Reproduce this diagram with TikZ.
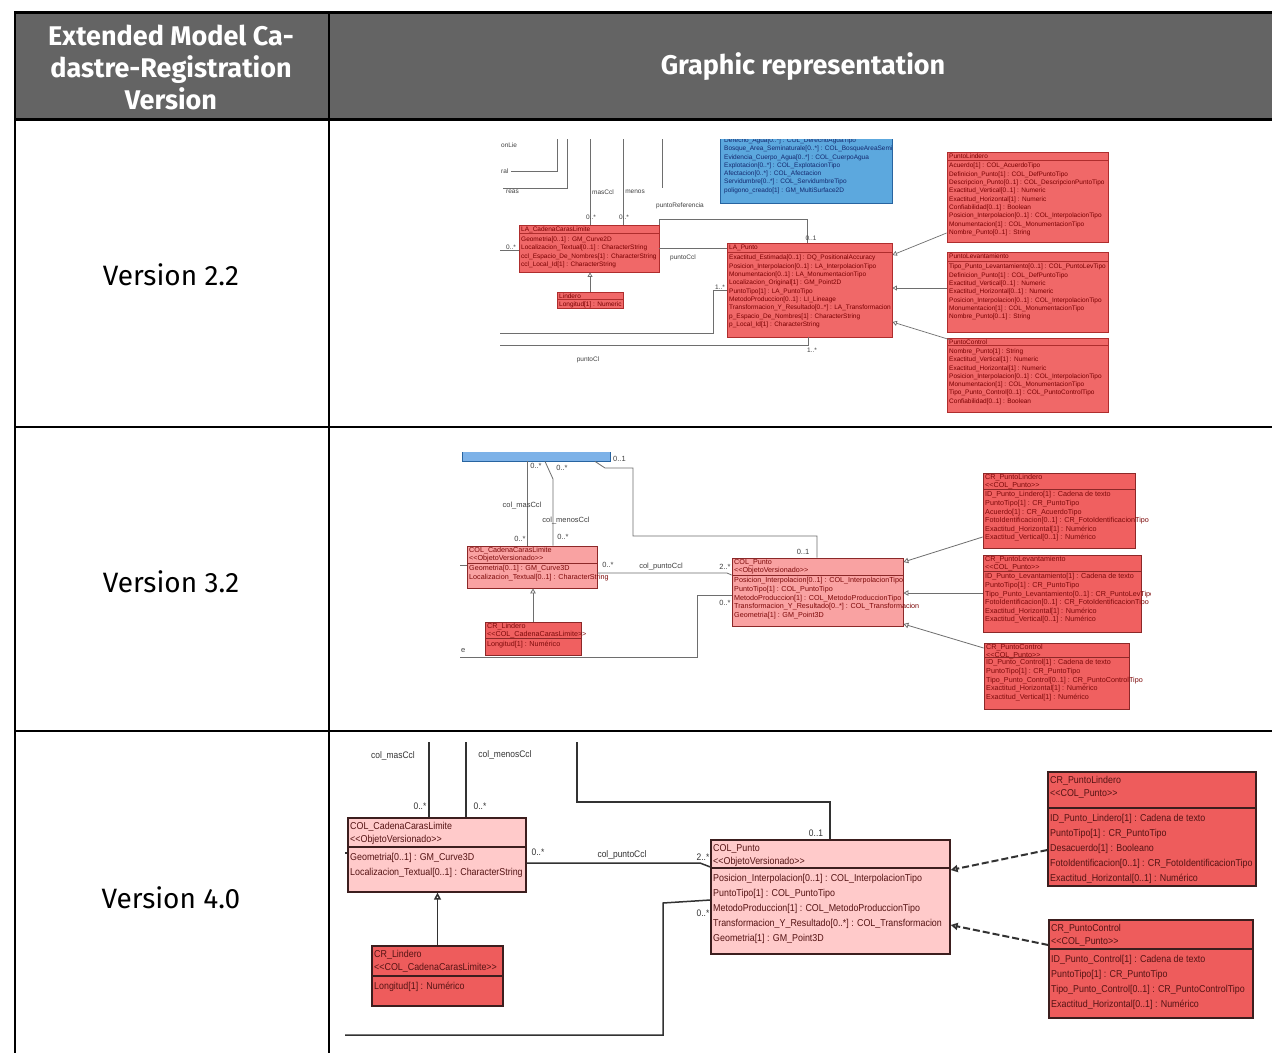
\documentclass[tikz,border=0pt]{standalone}
\usepackage{fontspec}
\setmainfont{Fira Sans}
\newfontfamily\umlf{Liberation Sans}
\newfontfamily\umlfn[FakeStretch=0.89]{Liberation Sans}
\usetikzlibrary{arrows.meta,fit,calc}
\definecolor{hdrgray}{RGB}{100,100,100}
\definecolor{rfill1}{RGB}{240,104,104}
\definecolor{rdraw1}{RGB}{175,45,45}
\definecolor{rtxt1}{RGB}{120,0,0}
\definecolor{bfill}{RGB}{92,168,222}
\definecolor{bdraw}{RGB}{40,100,160}
\definecolor{btxt}{RGB}{20,40,110}
\definecolor{lfill2}{RGB}{249,162,162}
\definecolor{rfill2}{RGB}{240,96,96}
\definecolor{rdraw2}{RGB}{140,40,40}
\definecolor{rtxt2}{RGB}{125,10,10}
\definecolor{bfill2}{RGB}{125,178,232}
\definecolor{lfill3}{RGB}{255,202,202}
\definecolor{rfill3}{RGB}{238,92,92}
\definecolor{rdraw3}{RGB}{60,30,30}
\definecolor{rtxt3}{RGB}{85,20,20}
\definecolor{conn1}{RGB}{110,110,110}
\definecolor{conn3}{RGB}{50,50,50}
\newcommand{\stq}[1]{<\kern0pt<#1>\kern0pt>}
\newcommand{\umlcls}[9]{%
  \node[#6, fit={(#2,#3) (#4,#5)}, inner sep=0pt] (#1) {};
  \draw[umlsep] (#2,#7) -- (#4,#7);
  \node[umlhdr, anchor=north west] (#1-h) at (#2+2,#3+\umlhp) {#8};
  \node[umlattr, anchor=north west] (#1-a) at (#2+2,#7+\umlap) {#9};
}
\begin{document}
\catcode`\_=12
\begin{tikzpicture}[x=1pt,y=-1pt,
  hdrtxt/.style={font=\bfseries\fontsize{27}{32}\selectfont, text=white, align=center, inner sep=0pt},
  rowtxt/.style={font=\fontsize{28}{30}\selectfont, text=black, inner sep=0pt},
  tline/.style={draw=black, line width=2.4pt}]
\useasboundingbox (0,0) rectangle (1272,1053);
\fill[white] (0,0) rectangle (1272,1053);
% ---------------- table ----------------
\fill[hdrgray] (14,12) rectangle (1272,119);
\draw[tline, line width=3pt] (14,12.5) -- (1272,12.5);
\draw[tline, line width=3pt] (14,119) -- (1272,119);
\draw[tline] (14,427) -- (1272,427);
\draw[tline] (14,731) -- (1272,731);
\draw[tline] (15,11) -- (15,1053);
\draw[tline] (329,11) -- (329,1053);
\node[hdrtxt] (h1) at (171,67) {Extended Model Ca-\\dastre-Registration\\Version};
\node[hdrtxt] (h2) at (803,67) {Graphic representation};
\node[rowtxt] (v22) at (171,275) {Version 2.2};
\node[rowtxt] (v32) at (171,582) {Version 3.2};
\node[rowtxt] (v40) at (171,898) {Version 4.0};
% ---------------- row 1 ----------------
\begin{scope}[
  umlhdr/.style={font=\umlf\fontsize{6.5}{8.3}\selectfont, text=rtxt1, align=left, inner sep=0pt},
  umlattr/.style={font=\umlf\fontsize{6.5}{8.3}\selectfont, text=rtxt1, align=left, inner sep=0pt},
  umlsep/.style={draw=rdraw1, line width=0.9pt},
  rbox/.style={draw=rdraw1, fill=rfill1, line width=0.8pt},
  bbox/.style={draw=bdraw, fill=bfill, line width=0.8pt},
  lbl/.style={font=\umlf\fontsize{6.5}{6.5}\selectfont, text=black!75, inner sep=0pt},
  cn/.style={draw=conn1, line width=0.7pt},
  gen/.style={cn, -{Triangle[open,length=4.5pt,width=5pt]}}]
\def\umlhp{2}\def\umlap{3}
\clip (500,139) rectangle (1112,414);
\node[bbox, fit={(720,120) (892,203)}, inner sep=0pt] (agua1) {};
\node[umlattr, text=btxt, anchor=north west] (agua1-a) at (724,137.5) {Derecho_Agua[0..*] : COL_DerechoAguaTipo\\Bosque_Area_Seminaturale[0..*] : COL_BosqueAreaSemi\\Evidencia_Cuerpo_Agua[0..*] : COL_CuerpoAgua\\Explotacion[0..*] : COL_ExplotacionTipo\\Afectacion[0..*] : COL_Afectacion\\Servidumbre[0..*] : COL_ServidumbreTipo\\poligono_creado[1] : GM_MultiSurface2D};
\umlcls{lacad}{519}{225}{659}{272}{rbox}{233.5}{LA_CadenaCarasLimite}{Geometria[0..1] : GM_Curve2D\\Localizacion_Textual[0..1] : CharacterString\\ccl_Espacio_De_Nombres[1] : CharacterString\\ccl_Local_Id[1] : CharacterString}
\umlcls{lapunto}{727}{243}{892}{337}{rbox}{252}{LA_Punto}{Exactitud_Estimada[0..1] : DQ_PositionalAccuracy\\Posicion_Interpolacion[0..1] : LA_InterpolacionTipo\\Monumentacion[0..1] : LA_MonumentacionTipo\\Localizacion_Original[1] : GM_Point2D\\PuntoTipo[1] : LA_PuntoTipo\\MetodoProduccion[0..1] : LI_Lineage\\Transformacion_Y_Resultado[0..*] : LA_Transformacion\\p_Espacio_De_Nombres[1] : CharacterString\\p_Local_Id[1] : CharacterString}
\umlcls{lindero}{557}{292}{623}{308}{rbox}{299}{Lindero}{Longitud[1] : Numeric}
\umlcls{plind}{947}{152}{1108}{242}{rbox}{160}{PuntoLindero}{Acuerdo[1] : COL_AcuerdoTipo\\Definicion_Punto[1] : COL_DefPuntoTipo\\Descripcion_Punto[0..1] : COL_DescripcionPuntoTipo\\Exactitud_Vertical[0..1] : Numeric\\Exactitud_Horizontal[1] : Numeric\\Confiabilidad[0..1] : Boolean\\Posicion_Interpolacion[0..1] : COL_InterpolacionTipo\\Monumentacion[1] : COL_MonumentacionTipo\\Nombre_Punto[0..1] : String}
\umlcls{plev}{947}{252}{1108}{332}{rbox}{261}{PuntoLevantamiento}{Tipo_Punto_Levantamiento[0..1] : COL_PuntoLevTipo\\Definicion_Punto[1] : COL_DefPuntoTipo\\Exactitud_Vertical[0..1] : Numeric\\Exactitud_Horizontal[0..1] : Numeric\\Posicion_Interpolacion[0..1] : COL_InterpolacionTipo\\Monumentacion[1] : COL_MonumentacionTipo\\Nombre_Punto[0..1] : String}
\umlcls{pctrl}{947}{338}{1108}{412}{rbox}{345.5}{PuntoControl}{Nombre_Punto[1] : String\\Exactitud_Vertical[1] : Numeric\\Exactitud_Horizontal[1] : Numeric\\Posicion_Interpolacion[0..1] : COL_InterpolacionTipo\\Monumentacion[1] : COL_MonumentacionTipo\\Tipo_Punto_Control[0..1] : COL_PuntoControlTipo\\Confiabilidad[0..1] : Boolean}
% connectors row 1
\coordinate (r1a) at (557,130);
\coordinate (r1b) at (567,130);
\coordinate (r1c) at (590,130);
\coordinate (r1d) at (623,130);
\coordinate (r1e) at (662,130);
\coordinate (r1f) at (500,250);
\coordinate (r1g) at (500,333);
\coordinate (r1h) at (500,345);
\draw[cn] (r1a) -- (557,171) -- (511,171);
\draw[cn] (r1b) -- (567,188) -- (503,188);
\draw[cn] (r1c) -- (r1c |- lacad.north);
\draw[cn] (r1d) -- (r1d |- lacad.north);
\draw[cn] (r1e) -- (662,188);
\draw[cn] (lacad.north east) -- ++(0,-5) -| ($(lapunto.north west)+(81,0)$);
\draw[cn] (lacad.east) -- (lacad.east -| lapunto.west);
\draw[cn] (r1f) -- (r1f -| lacad.west);
\draw[cn] (r1g) -- (713,333) -- (713,290) -- (lapunto.west |- 0,290);
\draw[cn] (r1h) -- (808,345) -- (808,0 |- lapunto.south);
\draw[gen] (lindero.north) -- (lindero.north |- lacad.south);
\draw[gen] (plind.west |- 0,233) -- (lapunto.east |- 0,255);
\draw[gen] (plev.west |- 0,288) -- (lapunto.east |- 0,288);
\draw[gen] ($(pctrl.north west)+(3,2)$) -- (lapunto.east |- 0,322);
\node[lbl, anchor=west] (l1a) at (501,145) {onLie};
\node[lbl, anchor=west] (l1b) at (501,171) {ral};
\node[lbl, anchor=west] (l1c) at (506,192) {reas};
\node[lbl] (l1d) at (603,192) {masCcl};
\node[lbl] (l1e) at (635,192) {menos};
\node[lbl] (l1f) at (591,217) {0..*};
\node[lbl] (l1g) at (624,217) {0..*};
\node[lbl] (l1h) at (680,206) {puntoReferencia};
\node[lbl] (l1i) at (811,238) {0..1};
\node[lbl] (l1j) at (511,247) {0..*};
\node[lbl] (l1k) at (683,258) {puntoCcl};
\node[lbl] (l1l) at (720,287) {1..*};
\node[lbl] (l1m) at (812,350) {1..*};
\node[lbl] (l1n) at (588,360) {puntoCl};
\end{scope}
% ---------------- row 2 ----------------
\begin{scope}[
  umlhdr/.style={font=\umlf\fontsize{7.2}{7.6}\selectfont, text=rtxt2, align=left, inner sep=0pt},
  umlattr/.style={font=\umlf\fontsize{7.2}{8.6}\selectfont, text=rtxt2, align=left, inner sep=0pt},
  umlsep/.style={draw=rdraw2, line width=0.9pt},
  lbox/.style={draw=rdraw2, fill=lfill2, line width=0.8pt},
  rbox/.style={draw=rdraw2, fill=rfill2, line width=0.8pt},
  lbl/.style={font=\umlf\fontsize{7.5}{7.5}\selectfont, text=black!75, inner sep=0pt},
  cn/.style={draw=conn1, line width=0.8pt},
  gen/.style={cn, -{Triangle[open,length=5pt,width=5.5pt]}}]
\def\umlhp{1.5}\def\umlap{2.5}
\clip (460,452) rectangle (1150,712);
\node[draw=bdraw, fill=bfill2, line width=0.8pt, fit={(462,440) (610,461)}, inner sep=0pt] (agua2) {};
\umlcls{cad2}{467}{546}{597}{588}{lbox}{563}{COL_CadenaCarasLimite\\\stq{ObjetoVersionado}}{Geometria[0..1] : GM_Curve3D\\Localizacion_Textual[0..1] : CharacterString}
\umlcls{lind2}{485}{622}{581}{655}{rbox}{638}{CR_Lindero\\\stq{COL_CadenaCarasLimite}}{Longitud[1] : Numérico}
\umlcls{pt2}{732}{558}{903}{626}{lbox}{575}{COL_Punto\\\stq{ObjetoVersionado}}{Posicion_Interpolacion[0..1] : COL_InterpolacionTipo\\PuntoTipo[1] : COL_PuntoTipo\\MetodoProduccion[1] : COL_MetodoProduccionTipo\\Transformacion_Y_Resultado[0..*] : COL_Transformacion\\Geometria[1] : GM_Point3D}
\umlcls{plind2}{983}{473}{1135}{548}{rbox}{489}{CR_PuntoLindero\\\stq{COL_Punto}}{ID_Punto_Lindero[1] : Cadena de texto\\PuntoTipo[1] : CR_PuntoTipo\\Acuerdo[1] : CR_AcuerdoTipo\\FotoIdentificacion[0..1] : CR_FotoIdentificacionTipo\\Exactitud_Horizontal[1] : Numérico\\Exactitud_Vertical[0..1] : Numérico}
\umlcls{plev2}{983}{555}{1141}{632}{rbox}{571}{CR_PuntoLevantamiento\\\stq{COL_Punto}}{ID_Punto_Levantamiento[1] : Cadena de texto\\PuntoTipo[1] : CR_PuntoTipo\\Tipo_Punto_Levantamiento[0..1] : CR_PuntoLevTipo\\FotoIdentificacion[0..1] : CR_FotoIdentificacionTipo\\Exactitud_Horizontal[1] : Numérico\\Exactitud_Vertical[0..1] : Numérico}
\umlcls{pctrl2}{984}{643}{1129}{709}{rbox}{657}{CR_PuntoControl\\\stq{COL_Punto}}{ID_Punto_Control[1] : Cadena de texto\\PuntoTipo[1] : CR_PuntoTipo\\Tipo_Punto_Control[0..1] : CR_PuntoControlTipo\\Exactitud_Horizontal[1] : Numérico\\Exactitud_Vertical[1] : Numérico}
% connectors row 2
\coordinate (r2b) at (460,657);
\coordinate (r2c) at (460,565);
\draw[cn] (agua2.south -| 527,0) -- (527,0 |- cad2.north);
\draw[cn] (agua2.south -| 545,0) -- (553,479) -- (553,0 |- cad2.north);
\draw[cn] (agua2.south -| 595,0) -- (605,468) -- (633,468) -- (633,536) -- (817,536) -- (817,0 |- pt2.north);
\draw[cn] (cad2.east |- 0,573) -- (727,573) -- (pt2.west |- 0,575);
\draw[cn] (r2b) -- (697,657) -- (697,595) -- (pt2.west |- 0,595);
\draw[cn] (r2c) -- (r2c -| cad2.west);
\draw[gen] (lind2.north) -- (lind2.north |- cad2.south);
\draw[gen] (plind2.west |- 0,537) -- (pt2.east |- 0,562);
\draw[gen] (plev2.west |- 0,593) -- (pt2.east |- 0,593);
\draw[gen] (pctrl2.west |- 0,648) -- (pt2.east |- 0,624);
\node[lbl, anchor=west] (l2a) at (613,459) {0..1};
\node[lbl] (l2b) at (536,466) {0..*};
\node[lbl] (l2c) at (562,468) {0..*};
\node[lbl] (l2d) at (522,506) {col_masCcl};
\node[lbl] (l2e) at (566,521) {col_menosCcl};
\node[lbl] (l2f) at (520,539) {0..*};
\node[lbl] (l2g) at (563,537) {0..*};
\node[lbl] (l2h) at (803,552) {0..1};
\node[lbl] (l2i) at (608,565) {0..*};
\node[lbl] (l2j) at (661,567) {col_puntoCcl};
\node[lbl] (l2k) at (725,567) {2..*};
\node[lbl] (l2l) at (725,603) {0..*};
\node[lbl, anchor=west] (l2m) at (461,651) {e};
\end{scope}
% ---------------- row 3 ----------------
\begin{scope}[
  umlhdr/.style={font=\umlfn\fontsize{10}{12.5}\selectfont, text=rtxt3, align=left, inner sep=0pt},
  umlattr/.style={font=\umlfn\fontsize{10}{15}\selectfont, text=rtxt3, align=left, inner sep=0pt},
  umlsep/.style={draw=rdraw3, line width=1.4pt},
  lbox/.style={draw=rdraw3, fill=lfill3, line width=1.3pt},
  rbox/.style={draw=rdraw3, fill=rfill3, line width=1.3pt},
  lbl/.style={font=\umlfn\fontsize{9.5}{9.5}\selectfont, text=black!80, inner sep=0pt},
  cn/.style={draw=conn3, line width=1.5pt},
  gen/.style={cn, -{Triangle[open,length=7pt,width=7pt]}}]
\def\umlhp{4.5}\def\umlap{6}
\clip (345,742) rectangle (1262,1053);
\umlcls{cad3}{348}{818}{526}{892}{lbox}{847}{COL_CadenaCarasLimite\\\stq{ObjetoVersionado}}{Geometria[0..1] : GM_Curve3D\\Localizacion_Textual[0..1] : CharacterString}
\umlcls{lind3}{372}{946}{503}{1006}{rbox}{976}{CR_Lindero\\\stq{COL_CadenaCarasLimite}}{Longitud[1] : Numérico}
\umlcls{pt3}{711}{840}{950}{954}{lbox}{868}{COL_Punto\\\stq{ObjetoVersionado}}{Posicion_Interpolacion[0..1] : COL_InterpolacionTipo\\PuntoTipo[1] : COL_PuntoTipo\\MetodoProduccion[1] : COL_MetodoProduccionTipo\\Transformacion_Y_Resultado[0..*] : COL_Transformacion\\Geometria[1] : GM_Point3D}
\umlcls{plind3}{1048}{772}{1256}{886}{rbox}{808}{CR_PuntoLindero\\\stq{COL_Punto}}{ID_Punto_Lindero[1] : Cadena de texto\\PuntoTipo[1] : CR_PuntoTipo\\Desacuerdo[1] : Booleano\\FotoIdentificacion[0..1] : CR_FotoIdentificacionTipo\\Exactitud_Horizontal[0..1] : Numérico}
\umlcls{pctrl3}{1049}{920}{1253}{1018}{rbox}{949}{CR_PuntoControl\\\stq{COL_Punto}}{ID_Punto_Control[1] : Cadena de texto\\PuntoTipo[1] : CR_PuntoTipo\\Tipo_Punto_Control[0..1] : CR_PuntoControlTipo\\Exactitud_Horizontal[0..1] : Numérico}
% connectors row 3
\coordinate (r3a) at (429,742);
\coordinate (r3b) at (466,742);
\coordinate (r3c) at (577,742);
\coordinate (r3d) at (345,1035);
\coordinate (r3e) at (345,853);
\draw[cn] (r3a) -- (r3a |- cad3.north);
\draw[cn] (r3b) -- (r3b |- cad3.north);
\draw[cn] (r3c) -- (577,802) -- (830,802) -- (830,0 |- pt3.north);
\draw[cn] (cad3.east |- 0,863) -- (700,863) -- (pt3.west |- 0,867);
\draw[cn] (r3d) -- (663,1035) -- (663,903) -- (pt3.west |- 0,900);
\draw[cn] (r3e) -- (r3e -| cad3.west);
\draw[gen] (lind3.north) -- (lind3.north |- cad3.south);
\draw[gen, dash pattern=on 7pt off 3pt, line width=2pt] (plind3.west |- 0,850) -- (pt3.east |- 0,870);
\draw[gen, dash pattern=on 7pt off 3pt, line width=2pt] (pctrl3.west |- 0,945) -- (pt3.east |- 0,925);
\node[lbl] (l3a) at (393,756) {col_masCcl};
\node[lbl] (l3b) at (505,755) {col_menosCcl};
\node[lbl] (l3c) at (420,806) {0..*};
\node[lbl] (l3d) at (480,806) {0..*};
\node[lbl] (l3e) at (816,833) {0..1};
\node[lbl] (l3f) at (538,852) {0..*};
\node[lbl] (l3g) at (622,855) {col_puntoCcl};
\node[lbl] (l3h) at (703,857) {2..*};
\node[lbl] (l3i) at (703,913) {0..*};
\end{scope}
\end{tikzpicture}
\end{document}
